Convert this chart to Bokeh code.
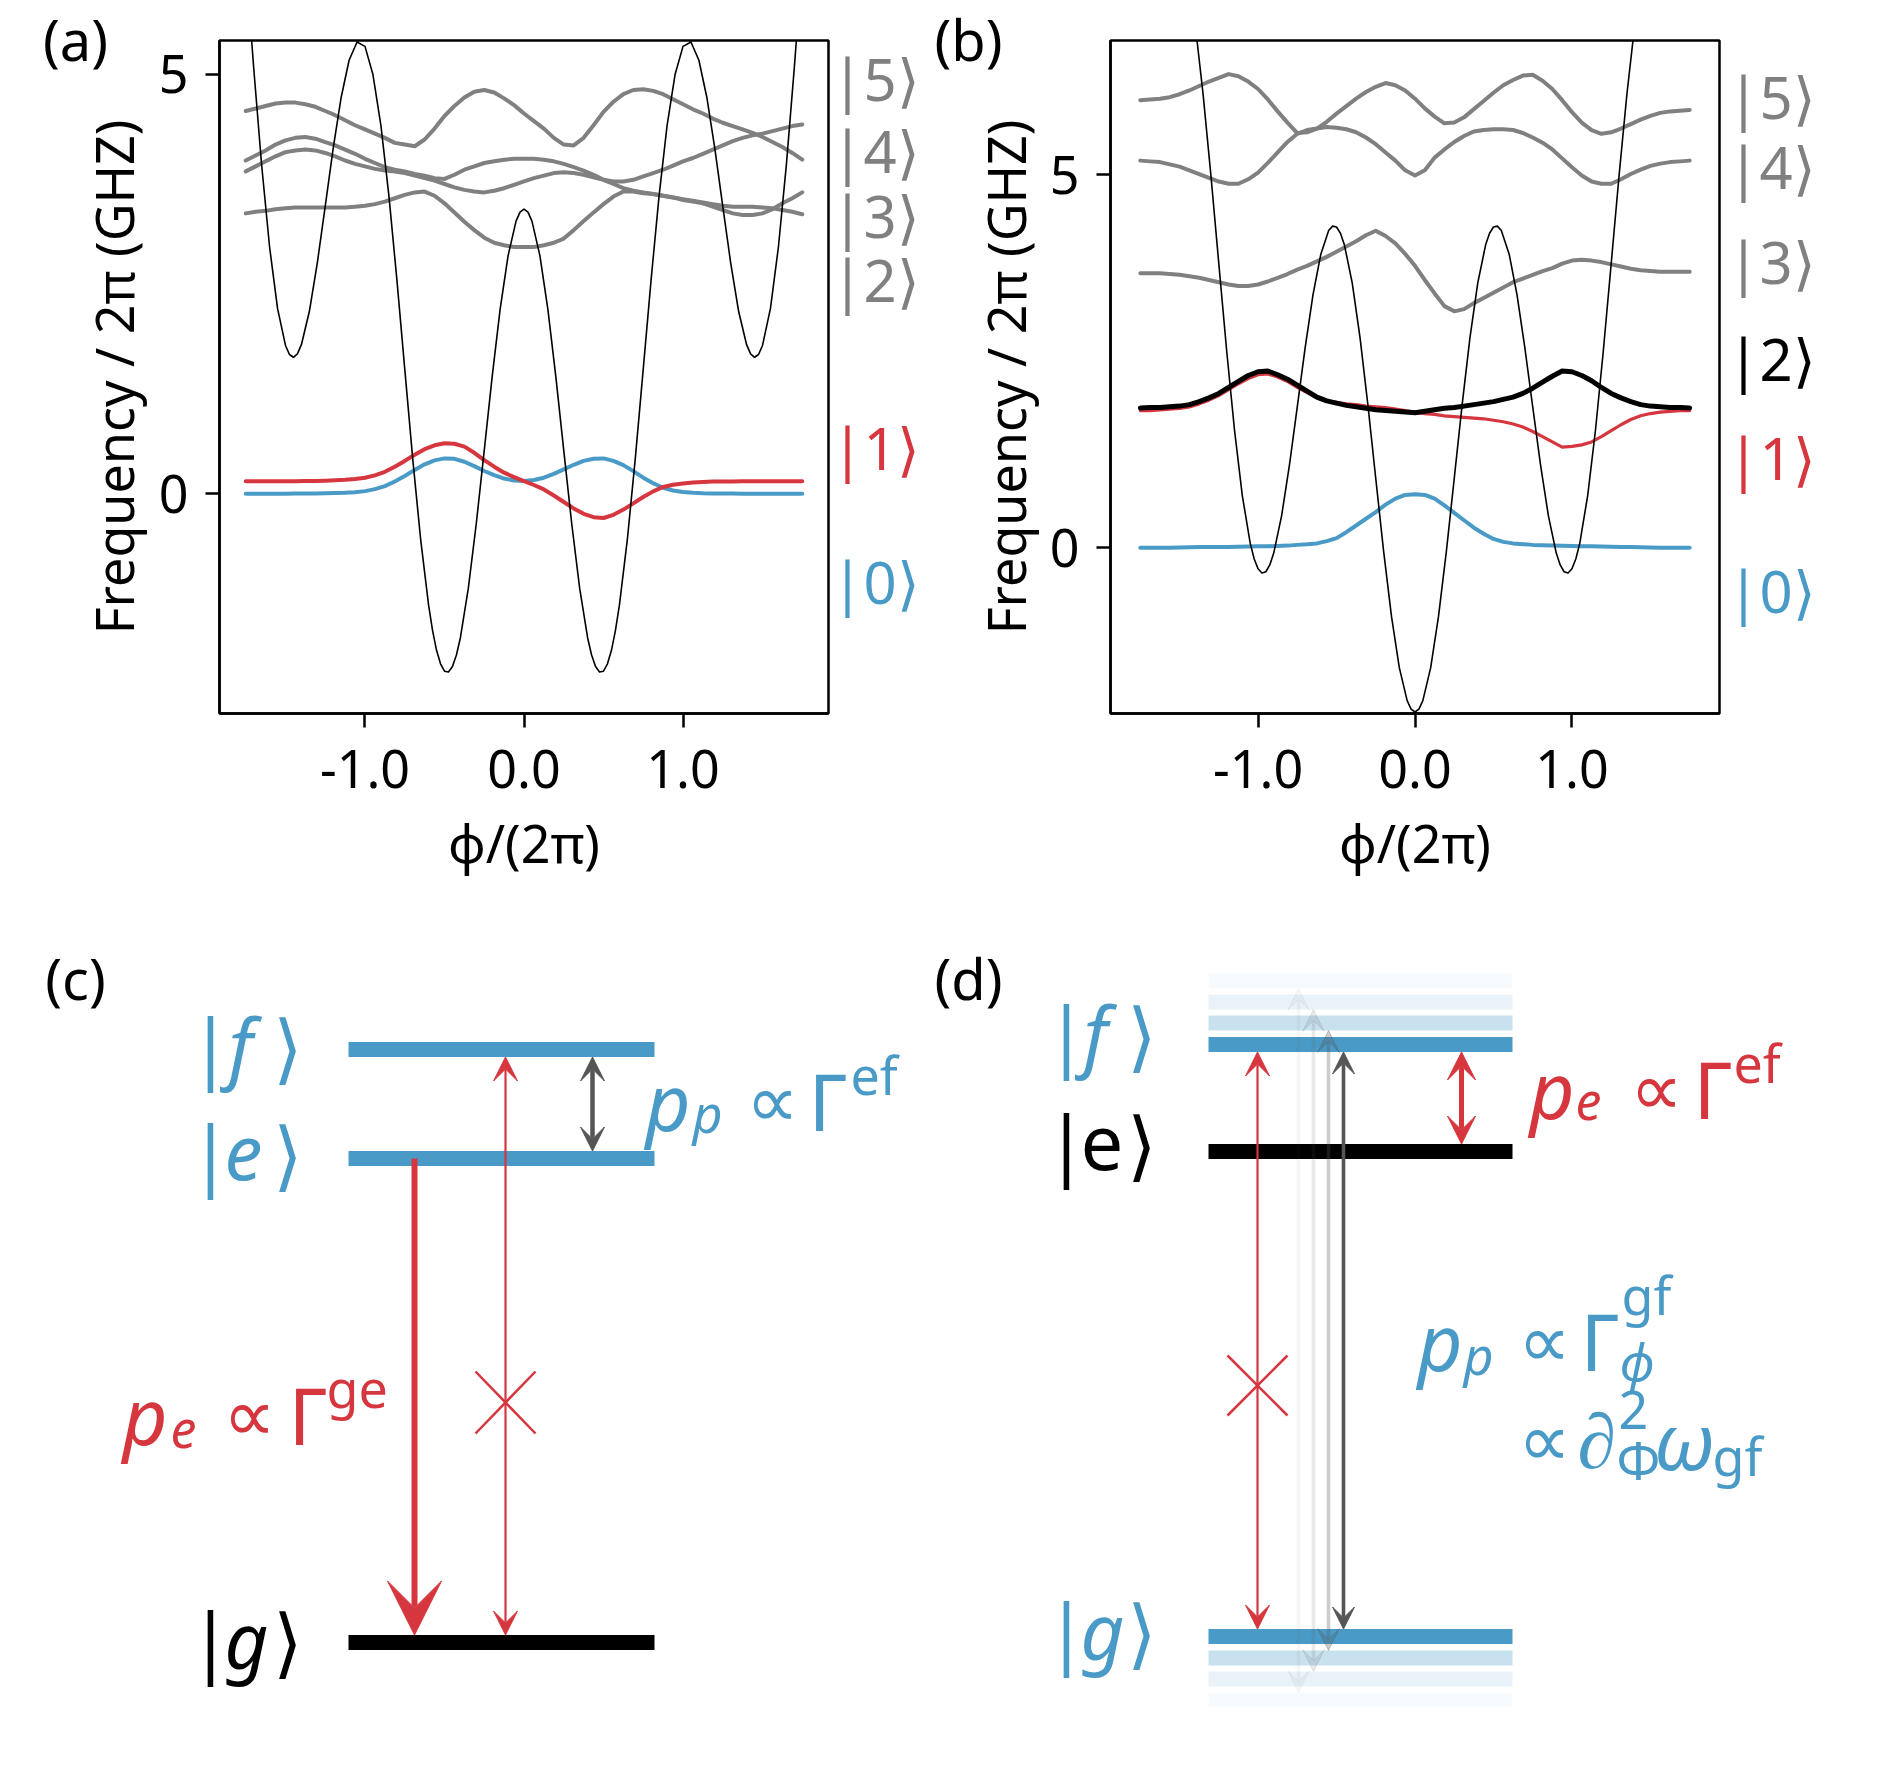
import math
from bokeh.plotting import figure
from bokeh.layouts import column, row
from bokeh.models import Range1d, FixedTicker, NumeralTickFormatter, Label, Arrow, VeeHead
from bokeh.embed import file_html
from bokeh.resources import INLINE

FONT = "Noto Sans"
GRAY = "#808080"
RED = "#d6363e"
BLUE = "#4a9ac7"
DARK = "#555555"

# ---------------- data: panels (a) and (b) ----------------
phi = [-1.75, -1.6875, -1.625, -1.5625, -1.5, -1.4375, -1.375, -1.3125, -1.25, -1.1875,
       -1.125, -1.0625, -1.0, -0.9375, -0.875, -0.8125, -0.75, -0.6875, -0.625, -0.5625,
       -0.5, -0.4375, -0.375, -0.3125, -0.25, -0.1875, -0.125, -0.0625, 0.0, 0.0625, 0.125,
       0.1875, 0.25, 0.3125, 0.375, 0.4375, 0.5, 0.5625, 0.625, 0.6875, 0.75, 0.8125, 0.875,
       0.9375, 1.0, 1.0625, 1.125, 1.1875, 1.25, 1.3125, 1.375, 1.4375, 1.5, 1.5625, 1.625,
       1.6875, 1.75]

phi_pot_a = [-1.75, -1.70, -1.65, -1.60, -1.55, -1.50, -1.475, -1.45, -1.425, -1.40, -1.35,
             -1.30, -1.25, -1.20, -1.15, -1.10, -1.05, -1.00, -0.95, -0.90, -0.85, -0.80, -0.75,
             -0.70, -0.65, -0.60, -0.575, -0.55, -0.525, -0.50, -0.475, -0.45, -0.425, -0.40,
             -0.35, -0.30, -0.25, -0.20, -0.15, -0.10, -0.05, -0.025, 0.00, 0.025, 0.05, 0.10,
             0.15, 0.20, 0.25, 0.30, 0.35, 0.40, 0.425, 0.45, 0.475, 0.50, 0.525, 0.55, 0.575,
             0.60, 0.65, 0.70, 0.75, 0.80, 0.85, 0.90, 0.95, 1.00, 1.05, 1.10, 1.15, 1.20, 1.25,
             1.30, 1.35, 1.40, 1.425, 1.45, 1.475, 1.50, 1.55, 1.60, 1.65, 1.70, 1.75]
pot_a = [6.336, 5.076, 3.917, 2.939, 2.207, 1.766, 1.658, 1.625, 1.666, 1.775, 2.170, 2.748,
         3.426, 4.114, 4.721, 5.165, 5.382, 5.330, 4.994, 4.389, 3.557, 2.562, 1.486, 0.420,
         -0.546, -1.329, -1.632, -1.867, -2.028, -2.116, -2.125, -2.061, -1.923, -1.717, -1.127,
         -0.356, 0.516, 1.398, 2.199, 2.837, 3.248, 3.354, 3.390, 3.354, 3.248, 2.837, 2.199,
         1.398, 0.516, -0.356, -1.127, -1.717, -1.923, -2.061, -2.125, -2.116, -2.028, -1.867,
         -1.632, -1.329, -0.546, 0.420, 1.486, 2.562, 3.557, 4.389, 4.994, 5.330, 5.382, 5.165,
         4.721, 4.114, 3.426, 2.748, 2.170, 1.775, 1.666, 1.625, 1.658, 1.766, 2.207, 2.939,
         3.917, 5.076, 6.336]

a_level0 = [0.0, 0.0, 0.0, 0.0, 0.0, 0.001, 0.002, 0.003, 0.005, 0.007, 0.01, 0.017, 0.03, 0.054,
            0.09, 0.145, 0.21, 0.283, 0.35, 0.396, 0.42, 0.415, 0.38, 0.328, 0.27, 0.22, 0.18,
            0.157, 0.15, 0.162, 0.19, 0.236, 0.29, 0.344, 0.39, 0.416, 0.42, 0.391, 0.34, 0.268,
            0.19, 0.124, 0.07, 0.038, 0.02, 0.01, 0.005, 0.003, 0.002, 0.001, 0.0, 0.0, 0.0, 0.0,
            0.0, 0.0, 0.0]
a_level1 = [0.147, 0.147, 0.147, 0.147, 0.148, 0.149, 0.15, 0.152, 0.155, 0.159, 0.165, 0.174,
            0.19, 0.218, 0.26, 0.321, 0.39, 0.464, 0.53, 0.576, 0.60, 0.594, 0.56, 0.487, 0.40,
            0.321, 0.25, 0.197, 0.15, 0.103, 0.05, -0.022, -0.10, -0.176, -0.24, -0.28, -0.29,
            -0.252, -0.19, -0.116, -0.04, 0.027, 0.08, 0.106, 0.12, 0.132, 0.14, 0.144, 0.145,
            0.146, 0.147, 0.147, 0.147, 0.147, 0.147, 0.147, 0.147]
a_gray_top = [4.56, 4.59, 4.62, 4.65, 4.66, 4.66, 4.64, 4.61, 4.56, 4.51, 4.45, 4.39, 4.34, 4.29,
              4.24, 4.18, 4.16, 4.14, 4.22, 4.35, 4.50, 4.62, 4.72, 4.79, 4.81, 4.78, 4.71, 4.63,
              4.53, 4.44, 4.35, 4.24, 4.16, 4.15, 4.24, 4.39, 4.55, 4.67, 4.76, 4.81, 4.82, 4.80,
              4.76, 4.70, 4.64, 4.58, 4.53, 4.47, 4.42, 4.38, 4.34, 4.30, 4.25, 4.19, 4.13, 4.06,
              3.98]
a_gray_mid1 = [3.97, 4.03, 4.09, 4.16, 4.21, 4.24, 4.25, 4.23, 4.19, 4.15, 4.10, 4.05, 3.99, 3.94,
               3.89, 3.86, 3.84, 3.81, 3.79, 3.76, 3.75, 3.80, 3.86, 3.90, 3.94, 3.96, 3.98, 3.99,
               3.99, 3.99, 3.98, 3.96, 3.93, 3.89, 3.85, 3.80, 3.74, 3.69, 3.64, 3.61, 3.59, 3.57,
               3.55, 3.53, 3.51, 3.49, 3.47, 3.45, 3.43, 3.42, 3.42, 3.42, 3.41, 3.40, 3.38, 3.36,
               3.33]
a_gray_mid2 = [3.84, 3.90, 3.96, 4.02, 4.07, 4.09, 4.10, 4.09, 4.06, 4.02, 3.97, 3.93, 3.90, 3.87,
               3.85, 3.84, 3.82, 3.79, 3.76, 3.73, 3.69, 3.65, 3.62, 3.60, 3.59, 3.61, 3.64, 3.68,
               3.72, 3.76, 3.79, 3.82, 3.83, 3.82, 3.80, 3.77, 3.74, 3.72, 3.72, 3.74, 3.78, 3.82,
               3.86, 3.91, 3.96, 4.00, 4.05, 4.10, 4.15, 4.20, 4.24, 4.27, 4.29, 4.32, 4.35, 4.38,
               4.40]
a_gray_low = [3.34, 3.36, 3.37, 3.39, 3.40, 3.41, 3.41, 3.41, 3.41, 3.41, 3.41, 3.42, 3.43, 3.45,
              3.48, 3.52, 3.56, 3.59, 3.60, 3.55, 3.46, 3.35, 3.24, 3.14, 3.05, 2.99, 2.96, 2.94,
              2.94, 2.94, 2.96, 2.99, 3.04, 3.14, 3.25, 3.35, 3.45, 3.54, 3.60, 3.60, 3.58, 3.57,
              3.55, 3.53, 3.50, 3.48, 3.46, 3.42, 3.38, 3.34, 3.32, 3.32, 3.34, 3.39, 3.46, 3.52,
              3.59]

phi_pot_b = [-1.45, -1.40, -1.35, -1.30, -1.25, -1.20, -1.15, -1.10, -1.05, -1.025, -1.00,
             -0.975, -0.95, -0.925, -0.90, -0.85, -0.80, -0.75, -0.70, -0.65, -0.60, -0.55,
             -0.525, -0.50, -0.475, -0.45, -0.40, -0.35, -0.30, -0.25, -0.20, -0.15, -0.10, -0.05,
             -0.025, 0.00, 0.025, 0.05, 0.10, 0.15, 0.20, 0.25, 0.30, 0.35, 0.40, 0.45, 0.475,
             0.50, 0.525, 0.55, 0.60, 0.65, 0.70, 0.75, 0.80, 0.85, 0.90, 0.925, 0.95, 0.975,
             1.00, 1.025, 1.05, 1.10, 1.15, 1.20, 1.25, 1.30, 1.35, 1.40, 1.45]
pot_b = [7.710, 7.008, 6.079, 4.985, 3.810, 2.645, 1.580, 0.698, 0.064, -0.146, -0.280, -0.338,
         -0.320, -0.229, -0.070, 0.428, 1.109, 1.890, 2.681, 3.391, 3.936, 4.254, 4.312, 4.300,
         4.216, 4.062, 3.552, 2.815, 1.913, 0.930, -0.043, -0.916, -1.606, -2.048, -2.162,
         -2.200, -2.162, -2.048, -1.606, -0.916, -0.043, 0.930, 1.913, 2.815, 3.552, 4.062,
         4.216, 4.300, 4.312, 4.254, 3.936, 3.391, 2.681, 1.890, 1.109, 0.428, -0.070, -0.229,
         -0.320, -0.338, -0.280, -0.146, 0.064, 0.698, 1.580, 2.645, 3.810, 4.985, 6.079, 7.008,
         7.710]

b_level0 = [0.0, 0.0, 0.0, 0.002, 0.005, 0.008, 0.01, 0.01, 0.01, 0.012, 0.015, 0.018, 0.02,
            0.022, 0.025, 0.03, 0.04, 0.048, 0.06, 0.09, 0.13, 0.21, 0.30, 0.39, 0.48, 0.58, 0.66,
            0.71, 0.72, 0.71, 0.66, 0.57, 0.47, 0.37, 0.27, 0.19, 0.12, 0.08, 0.06, 0.05, 0.04,
            0.035, 0.03, 0.027, 0.025, 0.022, 0.02, 0.018, 0.015, 0.012, 0.01, 0.008, 0.005,
            0.002, 0.0, 0.0, 0.0]
b_level1 = [1.84, 1.84, 1.85, 1.86, 1.87, 1.89, 1.93, 1.98, 2.04, 2.12, 2.20, 2.27, 2.32, 2.33,
            2.29, 2.23, 2.15, 2.08, 2.01, 1.97, 1.95, 1.93, 1.92, 1.90, 1.89, 1.88, 1.86, 1.84,
            1.82, 1.80, 1.79, 1.77, 1.76, 1.75, 1.74, 1.73, 1.71, 1.69, 1.66, 1.62, 1.56, 1.49,
            1.42, 1.35, 1.36, 1.38, 1.42, 1.49, 1.57, 1.65, 1.72, 1.77, 1.80, 1.82, 1.83, 1.84,
            1.84]
b_level2 = [1.875, 1.88, 1.88, 1.89, 1.90, 1.92, 1.96, 2.01, 2.07, 2.15, 2.23, 2.31, 2.36, 2.37,
            2.32, 2.26, 2.18, 2.10, 2.02, 1.97, 1.94, 1.91, 1.89, 1.87, 1.85, 1.84, 1.83, 1.82,
            1.81, 1.83, 1.85, 1.87, 1.88, 1.90, 1.92, 1.94, 1.96, 1.99, 2.02, 2.07, 2.14, 2.22,
            2.30, 2.37, 2.36, 2.31, 2.24, 2.15, 2.07, 2.01, 1.96, 1.92, 1.90, 1.89, 1.88, 1.88,
            1.875]
b_level3 = [3.68, 3.68, 3.68, 3.67, 3.66, 3.64, 3.62, 3.59, 3.56, 3.53, 3.51, 3.51, 3.53, 3.57,
            3.62, 3.67, 3.73, 3.78, 3.84, 3.90, 3.97, 4.04, 4.11, 4.19, 4.25, 4.18, 4.08, 3.94,
            3.78, 3.59, 3.41, 3.24, 3.17, 3.20, 3.28, 3.35, 3.42, 3.49, 3.56, 3.61, 3.66, 3.71,
            3.75, 3.81, 3.85, 3.86, 3.85, 3.83, 3.80, 3.77, 3.74, 3.72, 3.71, 3.70, 3.70, 3.70,
            3.70]
b_level4 = [5.19, 5.18, 5.17, 5.14, 5.11, 5.06, 5.01, 4.96, 4.91, 4.88, 4.88, 4.94, 5.03, 5.16,
            5.30, 5.44, 5.55, 5.60, 5.62, 5.64, 5.63, 5.61, 5.57, 5.50, 5.41, 5.30, 5.19, 5.06,
            4.99, 5.06, 5.23, 5.34, 5.44, 5.52, 5.58, 5.60, 5.61, 5.61, 5.60, 5.56, 5.50, 5.43,
            5.34, 5.22, 5.10, 4.99, 4.91, 4.88, 4.88, 4.94, 5.01, 5.07, 5.12, 5.15, 5.17, 5.18,
            5.19]
b_level5 = [6.00, 6.01, 6.02, 6.04, 6.08, 6.13, 6.19, 6.25, 6.30, 6.35, 6.32, 6.25, 6.15, 6.01,
            5.85, 5.70, 5.56, 5.57, 5.62, 5.71, 5.82, 5.92, 6.02, 6.11, 6.18, 6.23, 6.20, 6.13,
            6.02, 5.89, 5.78, 5.69, 5.70, 5.77, 5.88, 5.99, 6.10, 6.20, 6.27, 6.33, 6.34, 6.26,
            6.15, 6.00, 5.84, 5.70, 5.60, 5.55, 5.57, 5.62, 5.68, 5.74, 5.79, 5.83, 5.85, 5.86,
            5.87]

x_ticks = [-1.0, 0.0, 1.0]
y_ticks = [0, 5]
ket_names = ["|0\u27e9", "|1\u27e9", "|2\u27e9", "|3\u27e9", "|4\u27e9", "|5\u27e9"]
a_ket_colors = [BLUE, RED, GRAY, GRAY, GRAY, GRAY]
b_ket_colors = [BLUE, RED, "black", GRAY, GRAY, GRAY]
# label rows (page pixels) of the state names beside panels (a) and (b)
a_ket_rows = [581, 447, 279, 215, 150, 78]
b_ket_rows = [590, 457, 358, 261, 166, 96]

# ---------------- data: panels (c) and (d) (page pixel coordinates) ----------------
c_levels = {"f": 1049, "e": 1158, "g": 1642}
c_level_colors = {"f": BLUE, "e": BLUE, "g": "black"}
c_bar_span = (348, 654)
d_levels = {"f": 1044, "e": 1151, "g": 1636}
d_level_colors = {"f": BLUE, "e": "black", "g": BLUE}
d_bar_span = (1208, 1512)
d_ghost_step = [21.5, 42.5, 63.5]
d_ghost_alpha = [0.30, 0.13, 0.05]
BAR_T = 15


def panel(width, bl, xr, yr):
    p = figure(width=width, height=880, x_range=Range1d(-xr, xr), y_range=Range1d(*yr),
               output_backend="svg", toolbar_location=None, frame_align=False,
               min_border_left=bl, min_border_right=2, min_border_top=40, min_border_bottom=167)
    p.xgrid.visible = False
    p.ygrid.visible = False
    p.outline_line_color = "black"
    p.outline_line_width = 2.5
    p.outline_line_alpha = 1.0
    p.xaxis.ticker = FixedTicker(ticks=x_ticks)
    p.xaxis.formatter = NumeralTickFormatter(format="0.0")
    p.yaxis.ticker = FixedTicker(ticks=y_ticks)
    for ax in (p.xaxis[0], p.yaxis[0]):
        ax.axis_line_width = 2.5
        ax.major_tick_line_width = 2.5
        ax.major_tick_out = 14
        ax.major_tick_in = 0
        ax.minor_tick_line_color = None
        ax.major_label_text_font = FONT
        ax.major_label_text_font_size = "52px"
        ax.major_label_text_color = "black"
        ax.axis_label_text_font = FONT
        ax.axis_label_text_font_size = "52px"
        ax.axis_label_text_font_style = "normal"
        ax.axis_label_text_color = "black"
    p.xaxis.axis_label = "\u03d5/(2\u03c0)"
    p.xaxis.major_label_standoff = 22
    p.xaxis.axis_label_standoff = 16
    p.yaxis.major_label_standoff = 17
    return p


def strip(width, x0, x1):
    p = figure(width=width, height=880, x_range=Range1d(x0, x1), y_range=Range1d(880, 0),
               output_backend="svg", toolbar_location=None, x_axis_type=None, y_axis_type=None,
               frame_align=False, min_border=0, min_border_left=0, min_border_right=0,
               min_border_top=0, min_border_bottom=0)
    p.outline_line_color = None
    p.xgrid.visible = False
    p.ygrid.visible = False
    return p


def lab(p, x, y, text, color, size, style="normal", align="left", baseline="alphabetic",
        angle=0.0):
    p.add_layout(Label(x=x, y=y, text=text, text_color=color, text_font=FONT,
                       text_font_size=f"{size}px", text_font_style=style, text_align=align,
                       text_baseline=baseline, angle=angle))


def curve(p, xs, ys, color, width):
    p.line(xs, ys, line_color=color, line_width=width, line_join="round", line_cap="round")


YLABEL = "Frequency / 2\u03c0 (GHZ)"

# ---------------- panel (a) ----------------
la = strip(154, 0, 154)
lab(la, 75, 38, "(a)", "black", 56, align="center", baseline="middle")
lab(la, 113, 376.5, YLABEL, "black", 52, align="center", angle=math.pi / 2)

pa = panel(676, 65, 1.915, (-2.62, 5.40))
for ys in (a_gray_top, a_gray_mid1, a_gray_mid2, a_gray_low):
    curve(pa, phi, ys, GRAY, 4)
curve(pa, phi, a_level0, BLUE, 4)
curve(pa, phi, a_level1, RED, 4)
curve(pa, phi_pot_a, pot_a, "black", 1.6)

ka = strip(95, 830, 925)
for name, yv, col in zip(ket_names, a_ket_rows, a_ket_colors):
    lab(ka, 831, yv, name, col, 58, baseline="middle")

# ---------------- panel (b) ----------------
lb = strip(121, 925, 1046)
lab(lb, 968, 38, "(b)", "black", 56, align="center", baseline="middle")
lab(lb, 1005, 376.5, YLABEL, "black", 52, align="center", angle=math.pi / 2)

pb = panel(675, 64, 1.94, (-2.22, 6.80))
for ys in (b_level5, b_level4, b_level3):
    curve(pb, phi, ys, GRAY, 4)
curve(pb, phi, b_level0, BLUE, 4)
curve(pb, phi, b_level1, RED, 3.2)
curve(pb, phi, b_level2, "black", 5)
curve(pb, phi_pot_b, pot_b, "black", 1.6)

kb = strip(174, 1721, 1895)
for name, yv, col in zip(ket_names, b_ket_rows, b_ket_colors):
    lab(kb, 1727, yv, name, col, 58, baseline="middle")

# ---------------- panels (c) and (d) ----------------
pc = figure(width=1895, height=886, x_range=Range1d(0, 1895), y_range=Range1d(1766, 880),
            output_backend="svg", toolbar_location=None, x_axis_type=None, y_axis_type=None,
            frame_align=False, min_border=0, min_border_left=0, min_border_right=0,
            min_border_top=0, min_border_bottom=0)
pc.outline_line_color = None
pc.xgrid.visible = False
pc.ygrid.visible = False


def arrow(p, x, y0, y1, color, lw, size, both=True, alpha=1.0):
    def head():
        return VeeHead(size=size, fill_color=color, line_color=color, line_width=1,
                       fill_alpha=alpha, line_alpha=alpha)
    p.add_layout(Arrow(x_start=x, y_start=y0, x_end=x, y_end=y1, end=head(),
                       start=head() if both else None, line_color=color, line_width=lw,
                       line_alpha=alpha))


def ket(p, xbar, xlet, xbr, base, letter, color, italic=True):
    lab(p, xbar, base, "|", color, 76)
    lab(p, xlet, base, letter, color, 76, style="italic" if italic else "normal")
    lab(p, xbr, base, "\u27e9", color, 76)


def mtext(p, parts, color):
    for t, x, y, size, style in parts:
        lab(p, x, y, t, color, size, style=style)


# (c) bars
for k, yv in c_levels.items():
    pc.quad(left=[c_bar_span[0]], right=[c_bar_span[1]], top=[yv - BAR_T / 2],
            bottom=[yv + BAR_T / 2], fill_color=c_level_colors[k], line_color=None)
# (c) arrows
arrow(pc, 414, c_levels["e"], c_levels["g"] - BAR_T / 2, RED, 6, 54, both=False)
arrow(pc, 505, c_levels["f"] + BAR_T / 2, c_levels["g"] - BAR_T / 2, RED, 2.2, 24)
arrow(pc, 592, c_levels["f"] + BAR_T / 2, c_levels["e"] - BAR_T / 2, DARK, 4.5, 24)
pc.segment(x0=[475, 475], y0=[1371, 1433], x1=[535, 535], y1=[1433, 1371], line_color=RED,
           line_width=2.5)
ket(pc, 189, 228, 272, 1045, "f", BLUE)
ket(pc, 189, 224, 272, 1152, "e", BLUE)
ket(pc, 189, 224, 272, 1639, "g", "black")
mtext(pc, [("p", 645, 1100, 78, "italic"), ("p", 692, 1112, 52, "italic"),
           ("\u221d", 745, 1098, 74, "normal"), ("\u0393", 808, 1100, 78, "normal"),
           ("ef", 850, 1074, 52, "normal")], BLUE)
mtext(pc, [("p", 122, 1414, 78, "italic"), ("e", 170, 1428, 52, "italic"),
           ("\u221d", 222, 1412, 74, "normal"), ("\u0393", 288, 1414, 78, "normal"),
           ("ge", 326, 1387, 52, "normal")], RED)
lab(pc, 75, 977, "(c)", "black", 56, align="center", baseline="middle")

# (d) ghost bars
for step, al in zip(d_ghost_step, d_ghost_alpha):
    for yv in (d_levels["f"] - step, d_levels["g"] + step):
        pc.quad(left=[d_bar_span[0]], right=[d_bar_span[1]], top=[yv - BAR_T / 2],
                bottom=[yv + BAR_T / 2], fill_color=BLUE, fill_alpha=al, line_color=None)
for k, yv in d_levels.items():
    pc.quad(left=[d_bar_span[0]], right=[d_bar_span[1]], top=[yv - BAR_T / 2],
            bottom=[yv + BAR_T / 2], fill_color=d_level_colors[k], line_color=None)
# (d) ghost arrows
for i, (step, al) in enumerate(zip(d_ghost_step, d_ghost_alpha)):
    xg = 1343 - 15 * (i + 1)
    arrow(pc, xg, d_levels["f"] - step + BAR_T / 2, d_levels["g"] + step - BAR_T / 2, DARK, 3.6,
          22, alpha=al)
arrow(pc, 1343, d_levels["f"] + BAR_T / 2, d_levels["g"] - BAR_T / 2, DARK, 3.6, 22)
arrow(pc, 1257, d_levels["f"] + BAR_T / 2, d_levels["g"] - BAR_T / 2, RED, 2.2, 24)
arrow(pc, 1461, d_levels["f"] + BAR_T / 2, d_levels["e"] - BAR_T / 2, RED, 5, 28)
pc.segment(x0=[1227, 1227], y0=[1355, 1415], x1=[1287, 1287], y1=[1415, 1355], line_color=RED,
           line_width=2.5)
ket(pc, 1045, 1083, 1126, 1033, "f", BLUE)
ket(pc, 1045, 1080, 1126, 1142, "e", "black", italic=False)
ket(pc, 1045, 1080, 1126, 1630, "g", BLUE)
mtext(pc, [("p", 1529, 1088, 78, "italic"), ("e", 1575, 1100, 52, "italic"),
           ("\u221d", 1629, 1086, 74, "normal"), ("\u0393", 1693, 1088, 78, "normal"),
           ("ef", 1733, 1062, 52, "normal")], RED)
mtext(pc, [("p", 1417, 1340, 78, "italic"), ("p", 1463, 1354, 52, "italic"),
           ("\u221d", 1517, 1338, 74, "normal"), ("\u0393", 1580, 1340, 78, "normal"),
           ("gf", 1621, 1294, 52, "normal"), ("\u03d5", 1619, 1360, 52, "italic"),
           ("\u221d", 1517, 1437, 74, "normal"), ("\u2202", 1577, 1437, 78, "normal"),
           ("2", 1618, 1409, 52, "normal"), ("\u03a6", 1616, 1459, 52, "normal"),
           ("\u03c9", 1653, 1439, 78, "italic"), ("gf", 1712, 1455, 52, "normal")], BLUE)
lab(pc, 968, 977, "(d)", "black", 56, align="center", baseline="middle")

layout = column(row(la, pa, ka, lb, pb, kb), pc)
open("out.html", "w").write(file_html(layout, INLINE))
